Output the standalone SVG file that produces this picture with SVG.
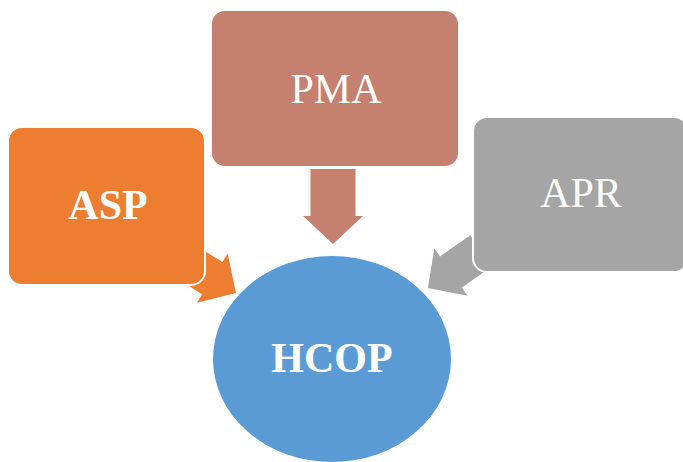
<svg xmlns="http://www.w3.org/2000/svg" width="683" height="462" viewBox="0 0 683 462">
<style>
.box{stroke:#fff;stroke-width:2}
.lbl{font-family:"Liberation Serif","Times New Roman",serif;font-size:42px;fill:#fff;text-anchor:middle}
.b{font-weight:bold}
</style>
<defs>
<path id="arr" d="M0,0 L-28,-30 L-28,-22.5 L-75,-22.5 L-75,22.5 L-28,22.5 L-28,30 Z"/>
<path id="arrs" d="M0,0 L-28,-29 L-28,-19 L-65,-19 L-65,19 L-28,19 L-28,29 Z"/>
</defs>
<g id="connectors">
<use href="#arr" fill="#C5806F" transform="translate(333,244) rotate(90)"/>
<use href="#arrs" fill="#ED7D31" transform="translate(236,293) rotate(32)"/>
<use href="#arrs" fill="#A5A5A5" transform="translate(428,288) rotate(145)"/>
</g>
<g id="asp">
<rect class="box" x="8" y="127" width="197" height="158" rx="14" fill="#ED7D31"/>
<text class="lbl b" x="108" y="219">ASP</text>
</g>
<g id="pma">
<rect class="box" x="211" y="10" width="248" height="157" rx="14" fill="#C5806F"/>
<text class="lbl" x="336" y="103">PMA</text>
</g>
<g id="apr">
<rect class="box" x="473" y="117" width="215" height="155" rx="14" fill="#A5A5A5"/>
<text class="lbl" x="581" y="207">APR</text>
</g>
<g id="hcop">
<ellipse cx="332" cy="359" rx="119" ry="103" fill="#5B9BD5"/>
<text class="lbl b" x="332" y="372">HCOP</text>
</g>
</svg>
